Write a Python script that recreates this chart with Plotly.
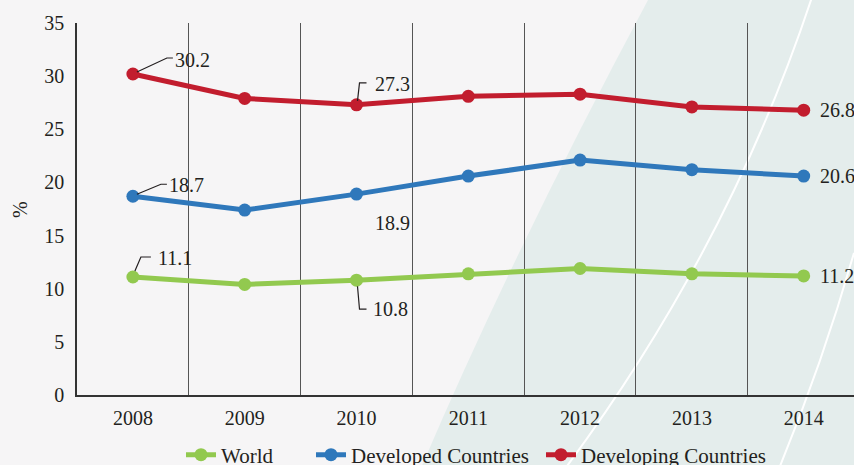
import plotly.graph_objects as go

years = ["2008", "2009", "2010", "2011", "2012", "2013", "2014"]
world = [11.1, 10.4, 10.8, 11.4, 11.9, 11.4, 11.2]
developed = [18.7, 17.4, 18.9, 20.6, 22.1, 21.2, 20.6]
developing = [30.2, 27.9, 27.3, 28.1, 28.3, 27.1, 26.8]

FONT = "Liberation Serif"
TEXT = "#231f20"

series = [
    ("World", world, "#92c94f"),
    ("Developed Countries", developed, "#2f78bb"),
    ("Developing Countries", developing, "#c21d2e"),
]
# left edge of each legend entry, in page pixels
legend_left = [181, 311, 541]

# (series index, point index, text dx, text dy, leader path in pixels or None)
callouts = [
    (2, 0, 40, 14, "M 4 2 L 34 16 L 40 16"),
    (2, 2, 16, 21, "M 1 4 L 3 22 L 10 22"),
    (2, 6, 14, 0, None),
    (1, 0, 34, 11, "M 4 2 L 28 12 L 34 12"),
    (1, 2, 16, -29, None),
    (1, 6, 14, 0, None),
    (0, 0, 23, 19, "M 2 6 L 8 20 L 18 20"),
    (0, 2, 14, -29, "M 1 -6 L 3 -29 L 10 -29"),
    (0, 6, 14, 0, None),
]

x = list(range(len(years)))
fig = go.Figure()

legend_ids = ["legend", "legend2", "legend3"]
for (name, vals, color), lid in zip(series, legend_ids):
    fig.add_trace(go.Scatter(
        x=x, y=vals, name=name, mode="lines+markers", legend=lid,
        line=dict(color=color, width=5),
        marker=dict(color=color, size=13),
    ))

shapes = [
    # decorative background panel and white swooshes
    dict(type="path", xref="paper", yref="paper", layer="below",
         path="M 0.444 -0.19 Q 0.565 0.40 0.737 1.07 L 1.0 1.07 L 1.0 -0.19 Z",
         fillcolor="#e4edec", line=dict(width=0)),
    dict(type="path", xref="paper", yref="paper", layer="below",
         path="M 0.631 -0.19 Q 0.84 0.40 0.946 1.07",
         line=dict(color="white", width=2)),
    dict(type="path", xref="paper", yref="paper", layer="below",
         path="M 0.905 -0.19 Q 0.96 0.09 1.0 0.382",
         line=dict(color="white", width=2)),
]
annotations = []
for si, pi, dx, dy, leader in callouts:
    vals = series[si][1]
    annotations.append(dict(
        x=x[pi], y=vals[pi], xref="x", yref="y", text=f"{vals[pi]:.1f}",
        showarrow=False, xanchor="left", yanchor="middle",
        xshift=dx, yshift=dy, font=dict(family=FONT, size=20, color=TEXT),
    ))
    if leader:
        shapes.append(dict(
            type="path", xref="x", yref="y", xsizemode="pixel", ysizemode="pixel",
            xanchor=x[pi], yanchor=vals[pi], path=leader,
            line=dict(color=TEXT, width=1.2),
        ))

annotations.append(dict(
    text="%", x=-0.0734, y=0.5, xref="paper", yref="paper", textangle=-90,
    xanchor="center", yanchor="middle", showarrow=False,
    font=dict(family=FONT, size=20, color=TEXT),
))

legends = {}
for lid, left in zip(legend_ids, legend_left):
    legends[lid] = dict(
        orientation="h", xref="container", yref="container",
        x=left / 854, xanchor="left", y=10 / 465, yanchor="middle",
        bgcolor="rgba(0,0,0,0)", font=dict(family=FONT, size=21, color=TEXT),
    )

fig.update_layout(
    width=854, height=465,
    margin=dict(l=77, r=0, t=23, b=70, autoexpand=False),
    paper_bgcolor="#f6f5f6", plot_bgcolor="rgba(0,0,0,0)",
    font=dict(family=FONT, size=20, color=TEXT),
    showlegend=True,
    shapes=shapes, annotations=annotations,
    xaxis=dict(
        range=[-0.5, 6.45], tickmode="array", tickvals=x, ticktext=years,
        showgrid=False, zeroline=False, showline=True, linecolor="#333", linewidth=1.5,
        ticks="", ticklabelstandoff=4,
        minor=dict(tickmode="array", tickvals=[i + 0.5 for i in x[:-1]],
                   showgrid=True, gridcolor="#555", gridwidth=1.2, ticks=""),
    ),
    yaxis=dict(
        range=[0, 35], dtick=5, showgrid=False, zeroline=False,
        showline=True, linecolor="#333", linewidth=1.5, ticks="", ticklabelstandoff=7,
    ),
    **legends,
)

fig.write_html("out.html", config={"displayModeBar": False},
               post_script="document.body.style.margin='0';")
